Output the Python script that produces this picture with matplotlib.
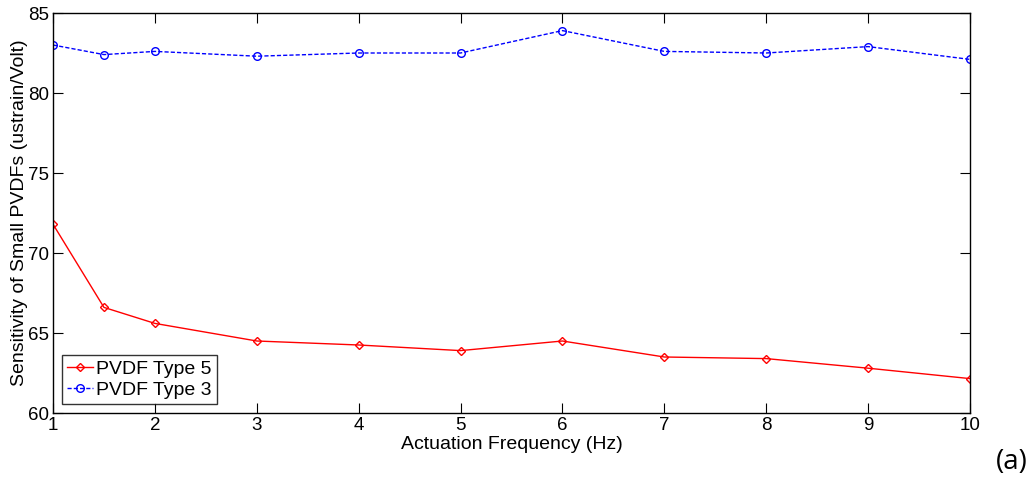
import matplotlib
matplotlib.use('Agg')
import matplotlib.pyplot as plt

# actuation frequencies (Hz)
freq = [1, 1.5, 2, 3, 4, 5, 6, 7, 8, 9, 10]
# sensitivity (ustrain/Volt)
type5 = [71.8, 66.6, 65.6, 64.5, 64.25, 63.9, 64.5, 63.5, 63.4, 62.8, 62.15]
type3 = [83.0, 82.4, 82.6, 82.3, 82.5, 82.5, 83.9, 82.6, 82.5, 82.9, 82.1]

xticks = [1, 2, 3, 4, 5, 6, 7, 8, 9, 10]
yticks = [60, 65, 70, 75, 80, 85]

plt.rcParams['font.family'] = ['Liberation Sans', 'DejaVu Sans']

fig = plt.figure(figsize=(10.36, 4.79), dpi=100)
ax = fig.add_axes([53 / 1036, 1 - 413 / 479, 917 / 1036, 400 / 479])

ax.plot(freq, type5, color='red', linestyle='-', linewidth=1.0,
        marker='D', markersize=4.5, markerfacecolor='none', markeredgecolor='red',
        markeredgewidth=1.0, label='PVDF Type 5')
ax.plot(freq, type3, color='blue', linestyle='--', linewidth=1.0, dashes=(3, 1.5),
        marker='o', markersize=5.5, markerfacecolor='none', markeredgecolor='blue',
        markeredgewidth=1.0, label='PVDF Type 3')

ax.set_xlim(1, 10)
ax.set_ylim(60, 85)
ax.set_xticks(xticks)
ax.set_yticks(yticks)
ax.tick_params(direction='in', length=7, width=0.8, top=True, right=True,
               labelsize=13.5, pad=3)
for s in ax.spines.values():
    s.set_linewidth(1.0)

ax.set_xlabel('Actuation Frequency (Hz)', fontsize=14, labelpad=1)
ax.set_ylabel('Sensitivity of Small PVDFs (ustrain/Volt)', fontsize=14, labelpad=0)

leg = ax.legend(loc='lower left', fontsize=14, frameon=True, fancybox=False,
                edgecolor='black', borderpad=0.28, labelspacing=0.15,
                handlelength=1.35, handletextpad=0.15, borderaxespad=0.45)
leg.get_frame().set_linewidth(1.0)

fig.text(1012 / 1036, 1 - 462 / 479, '(a)', fontsize=20, family=['Open Sans', 'DejaVu Sans'],
         ha='center', va='center')

fig.savefig('out.png', dpi=100)
